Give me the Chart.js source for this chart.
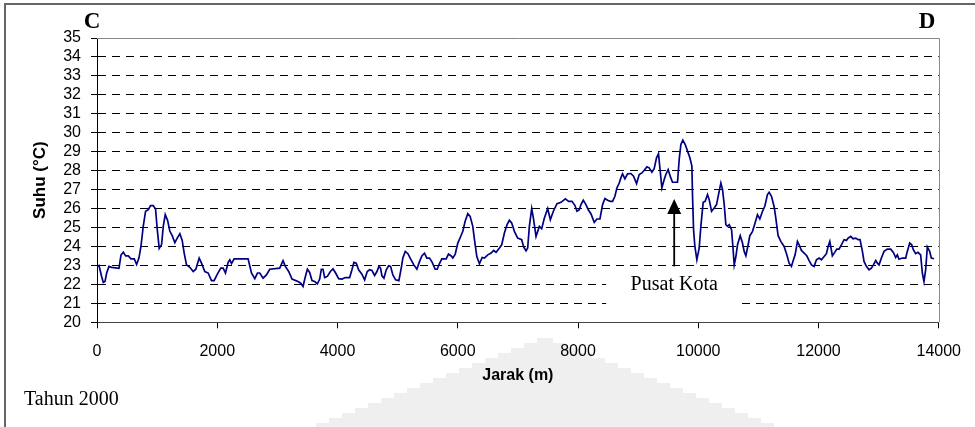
<!DOCTYPE html>
<html>
<head>
<meta charset="utf-8">
<script src="https://cdn.jsdelivr.net/npm/chart.js@4.4.1/dist/chart.umd.min.js"></script>
<style>
  html, body { margin: 0; padding: 0; background: #fff; }
  canvas { display: block; }
</style>
</head>
<body>
<canvas id="profil" width="975" height="427"></canvas>
<script>
// Distance along transect C-D (m)
const jarak = [
  0,33,78,105,133,161,199,244,365,399,437,476,520,565,620,659,698,731,769,808,853,891,935,974,1002,1035,1074,1102,1135,1174,1212,1251,1295,1334,1378,1417,1450,1489,1544,1600,1644,1699,1738,1793,1849,1904,1948,2004,2059,2098,2137,2181,2209,2237,2281,2403,2513,2569,2624,2669,2707,2762,2818,2873,
  3039,3094,3133,3188,3244,3343,3388,3427,3466,3499,3537,3576,3621,3665,3704,3731,3759,3787,3831,3881,3925,3969,4019,4074,4130,4202,4240,4273,4312,4351,4406,4451,4495,4534,4573,4617,4656,4689,4716,4739,4772,4811,4850,4883,4921,4966,5021,5060,5087,5127,5171,5215,5270,5320,5364,5403,5447,5486,5530,5575,5625,5658,5696,
  5735,5808,5846,5891,5918,5958,6001,6045,6084,6123,6167,6206,6250,6278,6317,6361,6406,6444,6499,6555,6598,6638,6693,6731,6776,6820,6859,6897,6942,6997,7063,7097,7136,7163,7191,7230,7258,7302,7357,7396,7441,7496,7540,7590,7651,7718,7789,7844,7900,7950,7983,8021,8049,8088,8132,8171,8215,8270,8315,8365,8409,8448,
  8492,8536,8575,8614,8647,8686,8713,8741,8780,8824,8880,8924,8974,9018,9063,9101,9146,9184,9229,9267,9306,9339,9362,9395,9434,9461,9500,9533,9572,9628,9655,9683,9711,9744,9783,9822,9861,9894,9905,9922,9944,9977,10016,10043,10082,10115,10154,10182,10221,10265,10304,10337,10376,10404,10432,10459,10487,10515,10554,10576,10598,10626,10653,10698,10736,10764,10792,10830,10858,10903,10941,10985,11024,11069,11107,11151,11179,11218,11262,
  11290,11328,11373,11428,11473,11511,11550,11583,11611,11650,11678,11716,11761,11805,11844,11883,11927,11966,12010,12049,12093,12132,12160,12188,12231,12270,12304,12342,12381,12425,12464,12492,12536,12575,12619,12658,12691,12730,12757,12796,12841,12879,12913,12952,12979,13007,13046,13090,13145,13201,13245,13284,13311,13339,13394,13450,13477,13517,13550,13577,13616,13655,13699,13727,13754,13782,13810,13849,13876,13921
];

// Temperature (°C) at each distance
const suhu = [
  22.95,23.0,22.4,22.1,22.15,22.6,22.95,22.9,22.85,23.55,23.7,23.5,23.5,23.35,23.35,23.05,23.4,24.0,25.06,25.86,25.94,26.16,26.16,25.98,24.9,23.9,24.1,25.06,25.68,25.38,24.8,24.57,24.2,24.44,24.67,24.32,23.65,23.03,22.9,22.68,22.8,23.39,23.12,22.68,22.6,22.2,22.2,22.56,22.86,22.86,22.6,23.16,23.3,23.1,23.35,23.35,23.35,22.6,22.3,22.6,22.6,22.33,22.5,22.8,
  22.86,23.25,22.95,22.68,22.28,22.15,22.06,21.89,22.42,22.8,22.63,22.2,22.15,22.03,22.28,22.8,22.8,22.36,22.42,22.68,22.82,22.6,22.3,22.28,22.36,22.36,22.77,23.16,23.12,22.77,22.54,22.24,22.68,22.77,22.73,22.47,22.68,22.95,22.86,22.45,22.33,22.77,22.98,22.95,22.5,22.24,22.2,22.86,23.39,23.74,23.62,23.35,23.03,22.8,23.2,23.5,23.65,23.39,23.39,23.16,22.8,22.8,23.1,
  23.35,23.35,23.6,23.5,23.39,23.6,24.18,24.5,24.8,25.33,25.73,25.59,25.06,24.36,23.47,23.09,23.42,23.39,23.56,23.65,23.79,23.69,23.92,24.09,24.71,25.15,25.38,25.24,24.8,24.44,24.36,23.97,23.77,23.92,25.06,26.0,25.5,24.53,25.06,24.94,25.5,26.0,25.41,25.86,26.26,26.33,26.51,26.38,26.38,26.16,25.86,25.94,26.21,26.44,26.21,25.94,25.73,25.27,25.45,25.45,26.21,26.53,
  26.44,26.38,26.38,26.65,27.09,27.35,27.62,27.83,27.57,27.83,27.85,27.71,27.32,27.8,27.88,28.02,28.2,28.15,27.92,28.1,28.68,28.89,28.15,27.09,27.53,27.8,28.06,27.71,27.39,27.39,27.39,28.59,29.38,29.61,29.38,29.03,28.68,28.24,26.65,24.89,24.0,23.3,23.92,25.06,26.33,26.38,26.74,26.47,25.86,26.03,26.21,26.74,27.35,27.0,26.21,25.15,25.06,25.15,24.89,24.0,23.03,23.47,24.09,24.57,24.18,23.74,23.51,24.09,24.57,24.8,25.2,25.68,25.45,25.86,26.12,26.74,26.86,26.65,26.1,
  25.5,24.57,24.27,24.0,23.56,23.12,22.95,23.3,23.56,24.27,24.09,23.79,23.65,23.51,23.25,23.03,22.95,23.3,23.39,23.3,23.47,23.62,24.0,24.27,23.51,23.69,23.86,23.86,24.09,24.36,24.32,24.44,24.53,24.41,24.44,24.36,24.36,23.74,23.21,22.95,22.77,22.86,23.03,23.26,23.12,23.03,23.39,23.74,23.86,23.86,23.69,23.42,23.56,23.33,23.39,23.39,23.74,24.18,24.09,23.83,23.62,23.69,23.56,22.6,22.15,22.77,23.97,23.74,23.39,23.35
];

// Axis ranges
const sumbuX = { min: 0, max: 14000, step: 2000 };
const sumbuY = { min: 20, max: 35, step: 1 };

// "Pusat Kota" marker (data units)
const pusatKota = { x: 9600, dari: 22.95, ke: 26.5, label: 'Pusat Kota' };

const sans = 'Liberation Sans, Arial, sans-serif';
const serif = 'Liberation Serif, Times New Roman, serif';

// Extra drawing: frame, watermark, labels and the arrow
const hiasan = {
  id: 'hiasan',
  beforeDraw(chart) {
    const ctx = chart.ctx;
    ctx.save();
    ctx.fillStyle = '#fff';
    ctx.fillRect(0, 0, chart.width, chart.height);

    // faint stepped watermark in the lower middle
    ctx.fillStyle = '#efefef';
    const puncak = 545, atas = 338;
    for (let yy = atas; yy < 427; yy += 5) {
      const lebar = 8 + (yy - atas) * 2.6;
      ctx.fillRect(Math.round(puncak - lebar), yy, Math.round(lebar * 2), 5);
    }

    // outer frame (left and top)
    ctx.strokeStyle = '#666';
    ctx.lineWidth = 2;
    ctx.beginPath();
    ctx.moveTo(5, 427);
    ctx.lineTo(5, 4);
    ctx.lineTo(975, 4);
    ctx.stroke();
    ctx.restore();
  },
  afterDraw(chart) {
    const ctx = chart.ctx;
    const a = chart.chartArea;
    const x = chart.scales.x;
    const y = chart.scales.y;
    ctx.save();

    // plot area border, top and right
    ctx.strokeStyle = '#888';
    ctx.lineWidth = 1;
    ctx.beginPath();
    ctx.moveTo(Math.round(a.left), Math.round(a.top) + 0.5);
    ctx.lineTo(Math.round(a.right) + 0.5, Math.round(a.top) + 0.5);
    ctx.lineTo(Math.round(a.right) + 0.5, Math.round(a.bottom));
    ctx.stroke();

    // white box behind the label
    const px = x.getPixelForValue(pusatKota.x);
    ctx.fillStyle = '#fff';
    ctx.fillRect(px - 68, y.getPixelForValue(22.75), 135, 42);

    ctx.fillStyle = '#000';
    ctx.font = '20px ' + serif;
    ctx.textAlign = 'center';
    ctx.textBaseline = 'middle';
    ctx.fillText(pusatKota.label, px, y.getPixelForValue(21.97));

    // arrow
    const yBawah = y.getPixelForValue(pusatKota.dari);
    const yAtas = y.getPixelForValue(pusatKota.ke);
    ctx.strokeStyle = '#000';
    ctx.lineWidth = 1.8;
    ctx.beginPath();
    ctx.moveTo(px, yBawah);
    ctx.lineTo(px, yAtas + 12);
    ctx.stroke();
    ctx.beginPath();
    ctx.moveTo(px, yAtas);
    ctx.lineTo(px - 7, yAtas + 15);
    ctx.lineTo(px + 7, yAtas + 15);
    ctx.closePath();
    ctx.fill();

    // end labels and year
    ctx.font = 'bold 23px ' + serif;
    ctx.fillText('C', 92, 22);
    ctx.fillText('D', 927, 22);
    ctx.font = '20px ' + serif;
    ctx.textAlign = 'left';
    ctx.fillText('Tahun 2000', 24, 400);
    ctx.restore();
  }
};

const titik = jarak.map((j, i) => ({ x: j, y: suhu[i] }));

new Chart(document.getElementById('profil'), {
  type: 'line',
  data: {
    datasets: [{
      data: titik,
      borderColor: '#000080',
      borderWidth: 1.7,
      pointRadius: 0,
      tension: 0,
      fill: false
    }]
  },
  plugins: [hiasan],
  options: {
    responsive: false,
    animation: false,
    layout: { padding: { top: 38, right: 35, bottom: 0, left: 0 } },
    plugins: {
      legend: { display: false },
      tooltip: { enabled: false }
    },
    scales: {
      x: {
        type: 'linear',
        min: sumbuX.min,
        max: sumbuX.max,
        ticks: {
          stepSize: sumbuX.step,
          autoSkip: false,
          maxRotation: 0,
          padding: 14,
          color: '#000',
          font: { family: sans, size: 16 },
          callback: v => String(v)
        },
        grid: { drawOnChartArea: false, drawTicks: true, tickLength: 6, color: '#000' },
        border: { color: '#444', width: 1 },
        title: {
          display: true,
          text: 'Jarak (m)',
          color: '#000',
          font: { family: sans, size: 16, weight: 'bold' },
          padding: { top: 0, bottom: 42 }
        },
        afterFit(scale) { scale.height = 104.7; }
      },
      y: {
        min: sumbuY.min,
        max: sumbuY.max,
        ticks: {
          stepSize: sumbuY.step,
          autoSkip: false,
          padding: 10,
          color: '#000',
          font: { family: sans, size: 16 },
          callback: v => String(v)
        },
        grid: {
          color: ctx => (ctx.tick && ctx.tick.value === sumbuY.max) ? 'rgba(0,0,0,0)' : '#000',
          tickColor: '#000',
          tickLength: 6,
          lineWidth: 1
        },
        border: { color: '#000', width: 1, dash: [8, 6] },
        title: {
          display: true,
          text: 'Suhu (°C)',
          color: '#000',
          font: { family: sans, size: 17, weight: 'bold' },
          padding: { top: 30, bottom: 0 }
        },
        afterFit(scale) { scale.width = 97; }
      }
    }
  }
});
</script>
</body>
</html>
